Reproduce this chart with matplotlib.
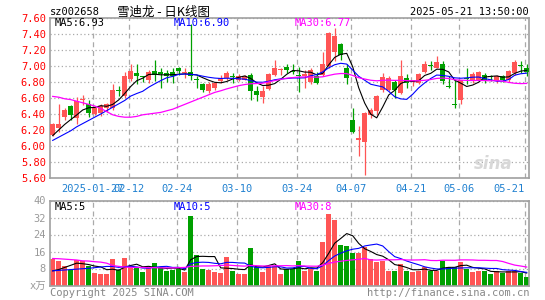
import matplotlib
matplotlib.use("Agg")
import matplotlib.pyplot as plt
import numpy as np

# trading days shown (2025)
dates = ['01-16', '01-17', '01-20', '01-21', '01-22', '01-23', '01-24', '01-27',
         '02-05', '02-06', '02-07', '02-10', '02-11', '02-12', '02-13', '02-14',
         '02-17', '02-18', '02-19', '02-20', '02-21', '02-24', '02-25', '02-26',
         '02-27', '02-28',
         '03-03', '03-04', '03-05', '03-06', '03-07', '03-10', '03-11', '03-12',
         '03-13', '03-14', '03-17', '03-18', '03-19', '03-20', '03-21', '03-24',
         '03-25', '03-26', '03-27', '03-28', '03-31',
         '04-01', '04-02', '04-03', '04-07', '04-08', '04-09', '04-10', '04-11',
         '04-14', '04-15', '04-16', '04-17', '04-18', '04-21', '04-22', '04-23',
         '04-24', '04-25', '04-28', '04-29', '04-30',
         '05-06', '05-07', '05-08', '05-09', '05-12', '05-13', '05-14', '05-15',
         '05-16', '05-19', '05-20', '05-21']

opens = [6.14, 6.22, 6.36, 6.50, 6.35, 6.57, 6.52, 6.40, 6.41, 6.48,
         6.48, 6.70, 6.62, 6.84, 6.91, 6.87, 6.82, 6.94, 6.93, 6.91,
         6.92, 6.97, 6.91, 6.93, 6.84, 6.78, 6.69, 6.72, 6.81, 6.85,
         6.87, 6.83, 6.83, 6.89, 6.69, 6.61, 6.71, 6.89, 6.95, 6.99,
         6.94, 6.89, 6.88, 6.80, 6.88, 6.89, 7.00, 7.18, 7.27, 6.98,
         6.33, 6.07, 6.05, 6.39, 6.44, 6.70, 6.70, 6.80, 6.66, 6.85,
         6.80, 6.79, 6.93, 7.01, 6.98, 7.03, 6.75, 6.52, 6.58, 6.85,
         6.83, 6.82, 6.89, 6.87, 6.81, 6.87, 6.82, 6.91, 7.01, 6.97]
highs = [6.29, 6.52, 6.48, 6.51, 6.61, 6.64, 6.58, 6.49, 6.52, 6.54,
         6.77, 6.75, 6.93, 7.02, 7.02, 6.88, 6.95, 7.07, 6.97, 6.95,
         6.97, 6.99, 6.97, 7.52, 6.87, 6.79, 6.80, 6.80, 6.89, 6.94,
         6.91, 6.90, 6.89, 6.91, 6.75, 6.75, 6.91, 7.07, 6.98, 7.02,
         7.02, 6.99, 6.95, 6.97, 6.93, 7.18, 7.42, 7.48, 7.29, 7.02,
         6.48, 6.25, 6.42, 6.47, 6.64, 6.91, 6.87, 6.83, 7.07, 6.90,
         6.83, 6.91, 7.06, 7.06, 7.12, 7.06, 6.88, 6.83, 6.83, 6.97,
         6.93, 6.94, 6.91, 6.89, 6.89, 6.89, 6.95, 7.07, 7.06, 7.02]
lows = [6.12, 6.17, 6.33, 6.33, 6.27, 6.51, 6.36, 6.39, 6.38, 6.43,
        6.45, 6.62, 6.60, 6.81, 6.77, 6.80, 6.79, 6.81, 6.72, 6.80,
        6.79, 6.89, 6.85, 6.83, 6.72, 6.67, 6.66, 6.70, 6.79, 6.83,
        6.79, 6.81, 6.82, 6.57, 6.56, 6.54, 6.70, 6.88, 6.89, 6.91,
        6.90, 6.68, 6.72, 6.77, 6.77, 6.87, 6.97, 7.06, 7.08, 6.77,
        6.16, 5.87, 5.64, 6.35, 6.39, 6.68, 6.69, 6.60, 6.65, 6.72,
        6.75, 6.77, 6.91, 6.95, 6.97, 6.77, 6.72, 6.47, 6.52, 6.77,
        6.79, 6.81, 6.79, 6.81, 6.79, 6.80, 6.80, 6.89, 6.91, 6.87]
closes = [6.27, 6.27, 6.45, 6.39, 6.56, 6.58, 6.41, 6.47, 6.50, 6.52,
          6.70, 6.69, 6.87, 6.94, 6.88, 6.86, 6.92, 6.89, 6.90, 6.88,
          6.87, 6.94, 6.92, 6.88, 6.83, 6.70, 6.78, 6.79, 6.85, 6.91,
          6.86, 6.88, 6.88, 6.69, 6.64, 6.69, 6.90, 6.98, 6.96, 6.95,
          6.93, 6.88, 6.90, 6.95, 6.79, 7.02, 7.41, 7.37, 7.14, 6.85,
          6.18, 6.10, 6.41, 6.45, 6.62, 6.86, 6.85, 6.70, 6.87, 6.79,
          6.82, 6.90, 7.03, 7.00, 7.05, 6.81, 6.74, 6.51, 6.82, 6.84,
          6.90, 6.92, 6.83, 6.86, 6.87, 6.82, 6.94, 7.05, 7.00, 6.92]

ma5 = [6.13, 6.20, 6.27, 6.33, 6.388, 6.45, 6.478, 6.482, 6.504, 6.496,
       6.52, 6.576, 6.656, 6.744, 6.816, 6.848, 6.894, 6.898, 6.89, 6.89,
       6.892, 6.896, 6.902, 6.898, 6.888, 6.854, 6.822, 6.796, 6.79, 6.806,
       6.838, 6.858, 6.876, 6.844, 6.79, 6.756, 6.76, 6.78, 6.834, 6.896,
       6.944, 6.94, 6.924, 6.922, 6.89, 6.908, 7.014, 7.108, 7.146, 7.158,
       6.99, 6.728, 6.536, 6.398, 6.352, 6.488, 6.638, 6.696, 6.78, 6.814,
       6.806, 6.816, 6.882, 6.908, 6.96, 6.958, 6.926, 6.822, 6.786, 6.744,
       6.762, 6.798, 6.862, 6.87, 6.876, 6.86, 6.864, 6.908, 6.936, 6.946]
ma10 = [6.07, 6.11, 6.15, 6.19, 6.24, 6.28, 6.32, 6.36, 6.40, 6.442,
        6.485, 6.527, 6.569, 6.624, 6.656, 6.684, 6.735, 6.777, 6.817, 6.853,
        6.87, 6.895, 6.90, 6.894, 6.889, 6.873, 6.859, 6.849, 6.844, 6.847,
        6.846, 6.84, 6.836, 6.817, 6.798, 6.797, 6.809, 6.828, 6.839, 6.843,
        6.85, 6.85, 6.852, 6.878, 6.893, 6.926, 6.977, 7.016, 7.034, 7.024,
        6.949, 6.871, 6.822, 6.772, 6.755, 6.739, 6.683, 6.616, 6.589, 6.583,
        6.647, 6.727, 6.789, 6.844, 6.887, 6.882, 6.871, 6.852, 6.847, 6.852,
        6.86, 6.862, 6.842, 6.828, 6.81, 6.811, 6.831, 6.885, 6.903, 6.911]
ma30 = [6.62, 6.61, 6.59, 6.58, 6.56, 6.54, 6.52, 6.50, 6.47, 6.43,
        6.39, 6.37, 6.36, 6.36, 6.37, 6.39, 6.40, 6.41, 6.42, 6.44,
        6.46, 6.49, 6.52, 6.55, 6.58, 6.61, 6.64, 6.67, 6.69, 6.714,
        6.734, 6.754, 6.768, 6.778, 6.781, 6.785, 6.801, 6.818, 6.833, 6.848,
        6.855, 6.862, 6.863, 6.863, 6.86, 6.865, 6.882, 6.898, 6.906, 6.905,
        6.882, 6.854, 6.837, 6.822, 6.815, 6.821, 6.823, 6.82, 6.821, 6.817,
        6.815, 6.816, 6.821, 6.831, 6.845, 6.849, 6.844, 6.828, 6.823, 6.82,
        6.819, 6.82, 6.818, 6.815, 6.817, 6.811, 6.795, 6.784, 6.78, 6.782]

# volume, 10k lots
volumes = [12.7, 11.4, 9.4, 7.2, 11.9, 11.4, 9.4, 5.8, 5.3, 5.3,
           12.4, 7.2, 12.8, 9.4, 8.3, 6.3, 8.3, 10.5, 8.3, 6.7,
           7.2, 7.8, 6.3, 32.6, 14.3, 7.7, 7.2, 6.3, 6.0, 13.5,
           6.9, 5.5, 5.5, 17.6, 8.5, 6.4, 9.1, 9.4, 5.5, 7.7,
           7.7, 11.4, 6.9, 8.0, 6.9, 20.5, 33.5, 30.7, 19.0, 18.5,
           15.4, 15.4, 18.2, 12.7, 11.1, 11.6, 6.9, 6.9, 10.0, 6.9,
           6.4, 6.9, 8.5, 6.9, 6.9, 11.6, 8.8, 8.5, 11.1, 7.8,
           6.4, 6.9, 6.9, 5.3, 6.9, 5.9, 6.9, 6.9, 5.9, 3.8]
vol_ma5 = [6.9, 7.5, 8.5, 9.5, 10.52, 10.26, 9.86, 9.14, 8.76, 7.44,
           7.64, 7.2, 8.6, 9.42, 10.02, 8.8, 9.02, 8.56, 8.34, 8.02,
           8.2, 8.1, 7.26, 12.12, 13.64, 13.74, 13.62, 13.62, 8.3, 8.14,
           7.98, 7.64, 7.48, 9.8, 8.8, 8.7, 9.42, 10.2, 7.78, 7.62,
           7.88, 8.34, 7.84, 8.34, 8.18, 10.74, 15.16, 19.92, 22.12, 24.44,
           23.42, 19.8, 17.3, 16.04, 14.56, 13.8, 12.1, 9.84, 9.3, 8.46,
           7.42, 7.42, 7.74, 7.12, 7.12, 8.16, 8.54, 8.54, 9.38, 9.56,
           8.52, 8.14, 7.82, 6.66, 6.48, 6.38, 6.38, 6.38, 6.5, 5.88]
vol_ma10 = [6.9, 7.1, 7.3, 7.5, 7.7, 7.9, 8.1, 8.4, 8.7, 8.98,
            8.95, 8.53, 8.87, 9.09, 8.73, 8.22, 8.11, 8.58, 8.88, 9.02,
            8.5, 8.56, 7.91, 10.23, 10.83, 10.97, 10.86, 10.44, 10.21, 10.89,
            10.86, 10.63, 10.55, 9.05, 8.47, 8.34, 8.53, 8.84, 8.79, 8.21,
            8.29, 8.88, 9.02, 8.06, 7.9, 9.31, 11.75, 13.88, 15.23, 16.31,
            17.08, 17.48, 18.61, 19.08, 19.5, 18.61, 15.95, 13.57, 12.67, 11.51,
            10.61, 9.76, 8.79, 8.21, 7.79, 7.79, 7.98, 8.14, 8.25, 8.34,
            8.34, 8.34, 8.18, 8.02, 8.02, 7.45, 7.26, 7.1, 6.58, 6.18]
vol_ma30 = [12.7, 12.6, 12.4, 12.2, 12.0, 11.6, 11.5, 11.2, 11.0, 10.5,
            9.4, 9.0, 8.7, 8.5, 8.5, 8.5, 8.4, 8.4, 8.3, 8.3,
            8.3, 8.4, 8.5, 9.0, 9.1, 9.2, 9.2, 9.3, 9.4, 9.63,
            9.44, 9.24, 9.11, 9.46, 9.34, 9.18, 9.17, 9.29, 9.29, 9.37,
            9.22, 9.36, 9.16, 9.11, 9.07, 9.54, 10.38, 11.05, 11.41, 11.8,
            12.08, 12.33, 12.73, 12.06, 11.96, 12.09, 12.08, 12.1, 12.23, 12.01,
            11.99, 12.04, 12.14, 11.78, 11.73, 11.9, 11.89, 11.86, 12.05, 12.05,
            12.01, 11.86, 11.86, 11.77, 11.77, 11.28, 10.4, 9.6, 9.17, 8.68]

tick_dates = ['01-27', '02-12', '02-24', '03-10', '03-24', '04-07', '04-21', '05-06', '05-21']
tick_labels = ['2025-01-27', '02-12', '02-24', '03-10', '03-24', '04-07', '04-21', '05-06', '05-21']
price_ticks = [5.6, 5.8, 6.0, 6.2, 6.4, 6.6, 6.8, 7.0, 7.2, 7.4, 7.6]
vol_ticks = [0, 8, 16, 24, 32, 40]
vol_tick_labels = ['x万', '8', '16', '24', '32', '40']

RED = '#ff5555'
GREEN = '#00a000'
GRID = '#aaaaaa'
W, H = 545, 300

plt.rcParams['font.family'] = ['DejaVu Sans Mono', 'Noto Sans CJK SC']


def px(x, y):
    return x / W, 1 - y / H


fig = plt.figure(figsize=(W / 100, H / 100), dpi=100)
ax = fig.add_axes([50 / W, 1 - 178 / H, 479 / W, 160 / H])
axv = fig.add_axes([50 / W, 1 - 285.5 / H, 479 / W, 85 / H])

x = np.arange(len(dates))
o = np.array(opens)
c = np.array(closes)
up = c >= o
colors = np.where(up, RED, GREEN)
tick_pos = [dates.index(d) - 0.35 for d in tick_dates]

# sina watermark, behind the candles
ax.text(0.965, 0.09, 'sina', transform=ax.transAxes, fontsize=12, style='italic',
        weight='bold', color='#d8d8d8', va='center', ha='right',
        family=['DejaVu Sans'], zorder=1)

# candles
ax.vlines(x, lows, highs, colors=colors, lw=0.9, zorder=2)
body_low = np.minimum(o, c)
body_h = np.maximum(np.abs(c - o), 0.012)
ax.bar(x, body_h, bottom=body_low, width=0.8, color=colors, linewidth=0, zorder=3)
ax.plot(x, ma5, color='black', lw=0.8, zorder=4)
ax.plot(x, ma10, color='#0000ff', lw=0.8, zorder=4)
ax.plot(x, ma30, color='#ff00ff', lw=0.9, zorder=4)

ax.set_xlim(-0.45, 79.38)
ax.set_ylim(5.6, 7.6)
ax.set_yticks(price_ticks)
ax.set_yticklabels(['%.2f' % t for t in price_ticks], color='red', fontsize=7.5)
ax.set_xticks(tick_pos)
ax.set_xticklabels(tick_labels, color='#1f80d0', fontsize=7.5)
ax.get_xticklabels()[-1].set_ha('right')

# volume
axv.bar(x, volumes, width=0.85, color=colors, linewidth=0, zorder=2)
axv.plot(x, vol_ma5, color='black', lw=0.8, zorder=4)
axv.plot(x, vol_ma10, color='#0000ff', lw=0.8, zorder=4)
axv.plot(x, vol_ma30, color='#ff00ff', lw=0.9, zorder=4)
axv.set_xlim(-0.45, 79.38)
axv.set_ylim(0, 40)
axv.set_yticks(vol_ticks)
axv.set_yticklabels(vol_tick_labels, color='#999999', fontsize=7.5)
axv.set_xticks(tick_pos)
axv.set_xticklabels([])

for a in (ax, axv):
    a.set_axisbelow(True)
    a.xaxis.grid(True, color=GRID, linestyle=(0, (4, 3)), lw=0.9)
    a.yaxis.grid(True, color=GRID, linestyle=(0, (1, 2)), lw=0.9)
    a.tick_params(length=0, pad=3)
    for s in a.spines.values():
        s.set_color('#a0a0a0')
        s.set_linewidth(1.2)
ax.tick_params(axis='x', pad=4)

# header
fig.text(*px(50, 12), 'sz002658', fontsize=7.5, va='center', ha='left')
fig.text(*px(117, 12), '雪迪龙 - 日K线图', fontsize=9, va='center', ha='left',
         family=['Noto Sans CJK SC'])
fig.text(*px(529, 12), '2025-05-21 13:50:00', fontsize=7.5, va='center', ha='right')

# MA legends
fig.text(*px(55, 23.5), 'MA5:6.93', fontsize=7.5, va='center', color='black')
fig.text(*px(174, 23.5), 'MA10:6.90', fontsize=7.5, va='center', color='#0000ff')
fig.text(*px(295, 23.5), 'MA30:6.77', fontsize=7.5, va='center', color='#ff00ff')
fig.text(*px(55, 206.5), 'MA5:5', fontsize=7.5, va='center', color='black')
fig.text(*px(174, 206.5), 'MA10:5', fontsize=7.5, va='center', color='#0000ff')
fig.text(*px(295, 206.5), 'MA30:8', fontsize=7.5, va='center', color='#ff00ff')

# footer
fig.text(*px(50, 293), 'Copyright 2025 SINA.COM', fontsize=7.5, va='center',
         ha='left', color='#888888')
fig.text(*px(529, 293), 'http://finance.sina.com.cn', fontsize=7.5, va='center',
         ha='right', color='#888888')

fig.savefig('out.png', dpi=100)
